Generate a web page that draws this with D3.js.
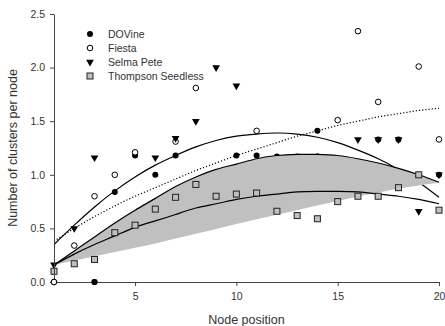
<!DOCTYPE html>
<html>
<head>
<meta charset="utf-8">
<script src="https://cdn.jsdelivr.net/npm/d3@7"></script>
<style>
  body { margin: 0; background: #fff; }
  svg { display: block; font-family: "Liberation Sans", Arial, sans-serif; }
</style>
</head>
<body>
<svg id="chart" width="445" height="326"></svg>
<script>
"use strict";

// ── Data ─────────────────────────────────────────────────────────────────────
const nodePos = [1, 2, 3, 4, 5, 6, 7, 8, 9, 10, 11, 12, 13, 14, 15, 16, 17, 18, 19, 20];

// observed clusters per node (null = not visible in the figure)
const dovine    = [null, null, 0.00, 0.84, 1.18, 1.00, 1.18, null, null, 1.18, 1.18, 1.17, 1.17, 1.41, null, null, 1.33, 1.33, null, 1.00];
const fiesta    = [0.00, 0.34, 0.80, 1.00, 1.21, null, 1.31, 1.81, null, null, 1.41, null, null, 1.17, 1.51, 2.34, 1.68, null, 2.01, 1.33];
const selmaPete = [0.16, 0.50, 1.16, null, null, 1.16, 1.34, 1.50, 2.00, 1.83, null, null, null, null, null, 1.33, 1.33, 1.33, 0.66, 1.00];
const thompson  = [0.10, 0.17, 0.21, 0.46, 0.53, 0.68, 0.79, 0.91, 0.80, 0.82, 0.83, 0.66, 0.62, 0.59, 0.75, 0.80, 0.80, 0.88, 1.00, 0.67];

// fitted curves at each node position
const dovineFit   = [0.35, 0.53, 0.70, 0.85, 0.98, 1.09, 1.18, 1.26, 1.32, 1.36, 1.38, 1.39, 1.38, 1.35, 1.30, 1.23, 1.15, 1.05, 0.93, 0.79];
const fiestaFit   = [0.38, 0.50, 0.61, 0.71, 0.80, 0.88, 0.96, 1.04, 1.11, 1.18, 1.24, 1.30, 1.36, 1.41, 1.46, 1.50, 1.54, 1.57, 1.60, 1.62];
const thompsonFit = [0.16, 0.26, 0.35, 0.43, 0.51, 0.57, 0.63, 0.69, 0.73, 0.77, 0.80, 0.82, 0.84, 0.845, 0.845, 0.84, 0.82, 0.80, 0.77, 0.73];
const bandUpper   = [0.16, 0.29, 0.42, 0.55, 0.67, 0.78, 0.89, 0.98, 1.05, 1.10, 1.15, 1.18, 1.19, 1.19, 1.18, 1.15, 1.11, 1.06, 1.00, 0.93];
const bandLower   = [0.16, 0.20, 0.24, 0.28, 0.32, 0.36, 0.405, 0.45, 0.495, 0.54, 0.585, 0.627, 0.67, 0.713, 0.756, 0.798, 0.835, 0.87, 0.90, 0.925];

const legendLabels = ["DOVine", "Fiesta", "Selma Pete", "Thompson Seedless"];
const yTicks = [0, 0.5, 1.0, 1.5, 2.0, 2.5];
const xTicks = [5, 10, 15, 20];

// ── Setup ────────────────────────────────────────────────────────────────────
const svg = d3.select("#chart");
const axisColor = "#444";
const textColor = "#333";

const x = d3.scaleLinear().domain([1, 20]).range([54, 439]);
const y = d3.scaleLinear().domain([0, 2.5]).range([282, 14]);

const pairs = vals => nodePos.map((p, i) => ({ p, v: vals[i] })).filter(d => d.v != null);

const line = d3.line()
  .x(d => x(d.p))
  .y(d => y(d.v))
  .curve(d3.curveNatural);

const tri = d3.symbol().type(d3.symbolTriangle).size(26);

// ── Marker helpers ───────────────────────────────────────────────────────────
function drawFilled(g, data) {
  g.selectAll(null).data(pairs(data)).enter().append("circle")
    .attr("cx", d => x(d.p)).attr("cy", d => y(d.v))
    .attr("r", 3).attr("fill", "#000");
}

function drawOpen(g, data) {
  g.selectAll(null).data(pairs(data)).enter().append("circle")
    .attr("cx", d => x(d.p)).attr("cy", d => y(d.v))
    .attr("r", 2.8).attr("fill", "#fff")
    .attr("stroke", "#000").attr("stroke-width", 1);
}

function drawTriangles(g, data) {
  g.selectAll(null).data(pairs(data)).enter().append("path")
    .attr("d", tri)
    .attr("transform", d => `translate(${x(d.p)},${y(d.v)}) rotate(180)`)
    .attr("fill", "#000");
}

function drawSquares(g, data) {
  g.selectAll(null).data(pairs(data)).enter().append("rect")
    .attr("x", d => x(d.p) - 3).attr("y", d => y(d.v) - 3)
    .attr("width", 6).attr("height", 6)
    .attr("fill", "#c0c0c0")
    .attr("stroke", "#222").attr("stroke-width", 1);
}

// ── Plot layers ──────────────────────────────────────────────────────────────
const plot = svg.append("g");

drawFilled(plot, dovine);
drawOpen(plot, fiesta);
drawTriangles(plot, selmaPete);

plot.append("path")
  .attr("d", line(pairs(dovineFit)))
  .attr("fill", "none").attr("stroke", "#000").attr("stroke-width", 1.2);

plot.append("path")
  .attr("d", line(pairs(fiestaFit)))
  .attr("fill", "none").attr("stroke", "#000").attr("stroke-width", 1.2)
  .attr("stroke-dasharray", "1.2,2");

// gray band between the two bounding curves
const area = d3.area()
  .x(d => x(d.p))
  .y0(d => y(d.lo))
  .y1(d => y(d.hi))
  .curve(d3.curveNatural);

plot.append("path")
  .datum(nodePos.map((p, i) => ({ p, lo: bandLower[i], hi: bandUpper[i] })))
  .attr("d", area)
  .attr("fill", "#c0c0c0");

plot.append("path")
  .attr("d", line(pairs(bandUpper)))
  .attr("fill", "none").attr("stroke", "#000").attr("stroke-width", 1.2);

plot.append("path")
  .attr("d", line(pairs(thompsonFit)))
  .attr("fill", "none").attr("stroke", "#000").attr("stroke-width", 1.2);

drawSquares(plot, thompson);

// ── Axes ─────────────────────────────────────────────────────────────────────
const yAxis = svg.append("g")
  .attr("transform", `translate(${x(1)},0)`)
  .call(d3.axisLeft(y).tickValues(yTicks).tickFormat(d3.format(".1f"))
    .tickSize(4).tickSizeOuter(0).tickPadding(5));

const xAxis = svg.append("g")
  .attr("transform", `translate(0,${y(0)})`)
  .call(d3.axisBottom(x).tickValues(xTicks).tickFormat(d3.format("d"))
    .tickSize(4).tickSizeOuter(0).tickPadding(7));

[xAxis, yAxis].forEach(a => {
  a.selectAll("path, line").attr("stroke", axisColor).attr("stroke-width", 1);
  a.selectAll("text").attr("fill", textColor).attr("font-size", "10.5px")
    .attr("font-family", "Liberation Sans, Arial, sans-serif");
});

// redraw the markers that sit on the axes so they stay on top
drawOpen(svg.append("g"), fiesta.map(v => v === 0 ? v : null));
drawFilled(svg.append("g"), dovine.map(v => v === 0 ? v : null));

svg.append("text")
  .attr("x", (x(1) + x(20)) / 2).attr("y", 324)
  .attr("text-anchor", "middle")
  .attr("font-size", "12.5px").attr("fill", textColor)
  .text("Node position");

svg.append("text")
  .attr("transform", `translate(17,${(y(0) + y(2.5)) / 2}) rotate(-90)`)
  .attr("text-anchor", "middle")
  .attr("font-size", "12.5px").attr("fill", textColor)
  .text("Number of clusters per node");

// ── Legend ───────────────────────────────────────────────────────────────────
const legend = svg.append("g").attr("transform", "translate(90,34)");
const rowH = 14;

legendLabels.forEach((label, i) => {
  const row = legend.append("g").attr("transform", `translate(0,${i * rowH})`);
  if (i === 0) row.append("circle").attr("r", 3).attr("fill", "#000");
  if (i === 1) row.append("circle").attr("r", 2.8).attr("fill", "#fff")
    .attr("stroke", "#000").attr("stroke-width", 1);
  if (i === 2) row.append("path").attr("d", tri).attr("transform", "rotate(180)").attr("fill", "#000");
  if (i === 3) row.append("rect").attr("x", -3).attr("y", -3)
    .attr("width", 6).attr("height", 6)
    .attr("fill", "#c0c0c0").attr("stroke", "#222").attr("stroke-width", 1);

  row.append("text")
    .attr("x", 18).attr("y", 4)
    .attr("font-size", "10.5px").attr("fill", textColor)
    .text(label);
});
</script>
</body>
</html>
